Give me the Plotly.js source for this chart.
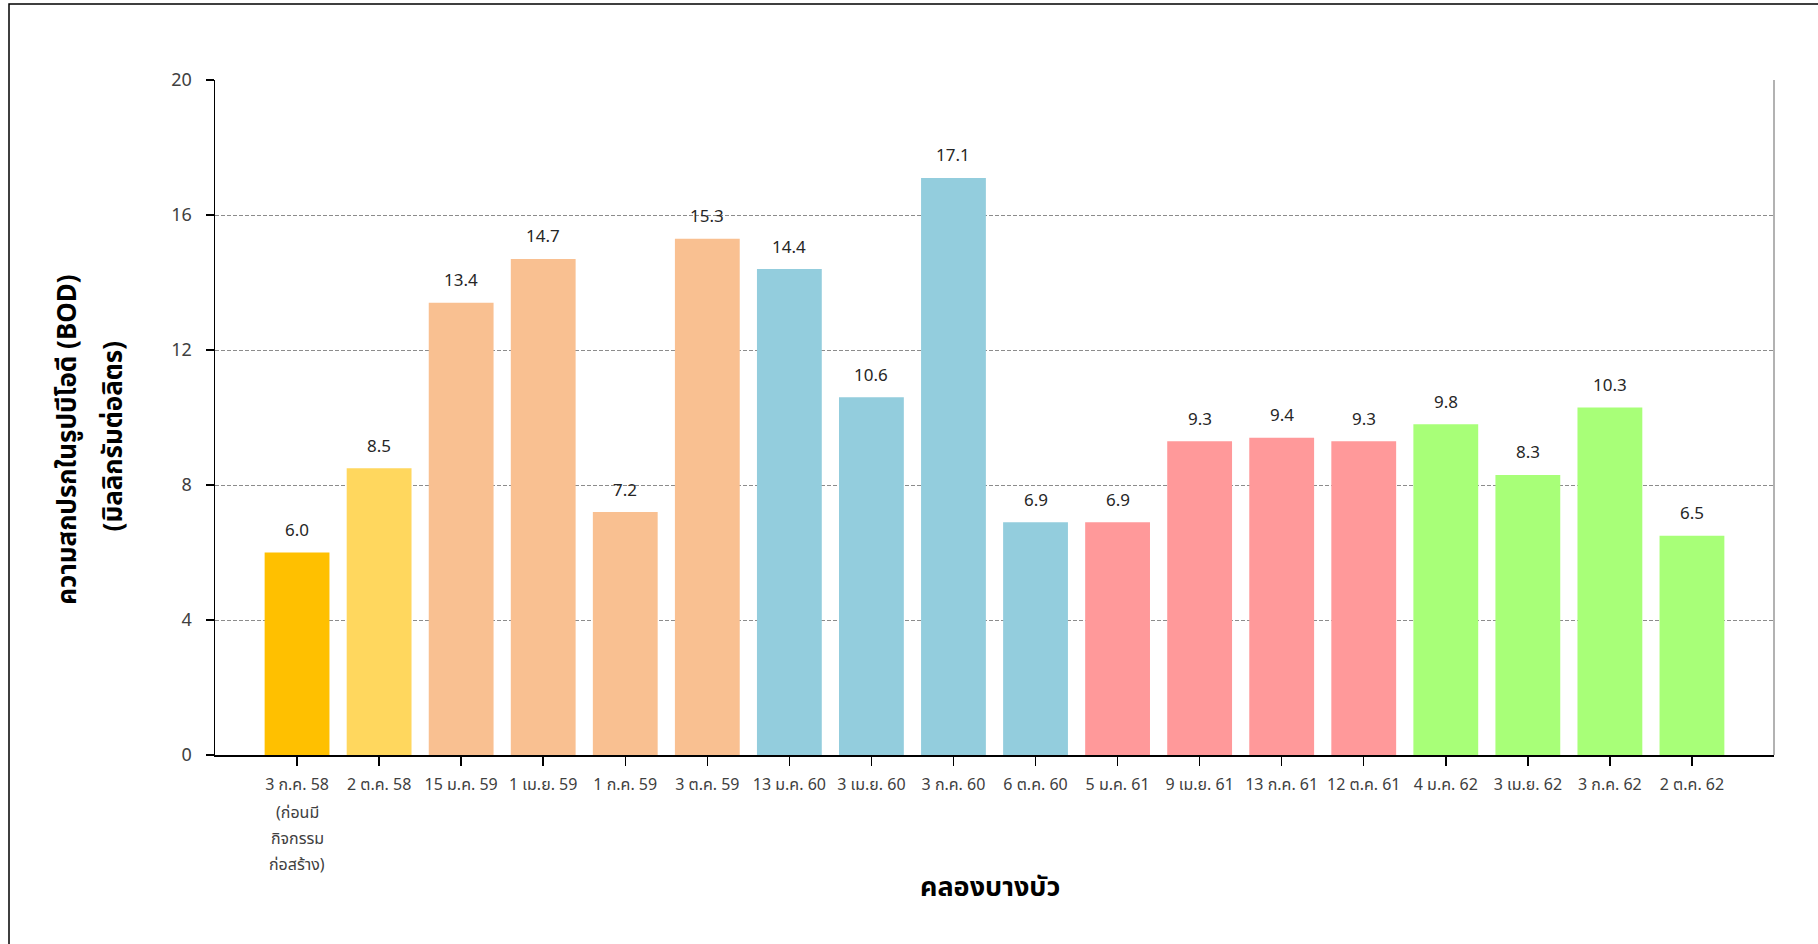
<!DOCTYPE html>
<html>
<head>
<meta charset="utf-8">
<script src="https://cdn.plot.ly/plotly-3.0.1.min.js"></script>
<style>
  html, body { margin: 0; padding: 0; background: #ffffff; }
  #chart { width: 1818px; height: 944px; }
</style>
</head>
<body>
<div id="chart"></div>
<script>
// Sampling dates along คลองบางบัว
const sampleDates = [
  '3 ก.ค. 58',
  '2 ต.ค. 58', '15 ม.ค. 59', '1 เม.ย. 59', '1 ก.ค. 59', '3 ต.ค. 59',
  '13 ม.ค. 60', '3 เม.ย. 60', '3 ก.ค. 60', '6 ต.ค. 60',
  '5 ม.ค. 61', '9 เม.ย. 61', '13 ก.ค. 61', '12 ต.ค. 61',
  '4 ม.ค. 62', '3 เม.ย. 62', '3 ก.ค. 62', '2 ต.ค. 62'
];

// Note printed under the first (baseline) round
const baselineNote = ['(ก่อนมี', 'กิจกรรม', 'ก่อสร้าง)'];

// BOD (mg/L) per sampling round
const bodValues = [6.0, 8.5, 13.4, 14.7, 7.2, 15.3, 14.4, 10.6, 17.1, 6.9,
                   6.9, 9.3, 9.4, 9.3, 9.8, 8.3, 10.3, 6.5];

// Monitoring period of each round (0 = before construction, then by year)
const periodOfRound = [0, 1, 2, 2, 2, 2, 3, 3, 3, 3, 4, 4, 4, 4, 5, 5, 5, 5];

const yTicks = [0, 4, 8, 12, 16, 20];

const yTitleLines = ['ความสกปรกในรูปบีโอดี (BOD)', '(มิลลิกรัมต่อลิตร)'];
const xTitle = 'คลองบางบัว';

// ---- styling ----
const periodColors = ['#FFC000', '#FFD75E', '#F9C091', '#93CDDD', '#FF999A', '#A8FF78'];
const FONT = 'Noto Sans, "Noto Sans Thai", Tahoma, sans-serif';

const bars = {
  type: 'bar',
  x: sampleDates,
  y: bodValues,
  marker: { color: periodOfRound.map(p => periodColors[p]), line: { width: 0 } },
  hoverinfo: 'x+y'
};

const valueLabels = sampleDates.map((d, i) => ({
  x: d, y: bodValues[i], xref: 'x', yref: 'y',
  text: bodValues[i].toFixed(1),
  showarrow: false, yanchor: 'middle', yshift: 23,
  font: { family: FONT, size: 17, color: '#262626' }
}));

// extra lines under the first tick label, spaced like the source table
const noteLabels = baselineNote.map((line, k) => ({
  x: sampleDates[0], y: 0, xref: 'x', yref: 'paper',
  text: line, showarrow: false, yanchor: 'middle', yshift: -57 - 26 * k,
  font: { family: FONT, size: 16, color: '#404040' }
}));

const titleAnnotations = [
  { text: '<b>' + yTitleLines[0] + '</b>', xref: 'paper', yref: 'paper', x: 0, y: 0.467,
    xshift: -149, xanchor: 'center', yanchor: 'middle', textangle: -90, showarrow: false,
    font: { family: FONT, size: 26, color: '#000000' } },
  { text: '<b>' + yTitleLines[1] + '</b>', xref: 'paper', yref: 'paper', x: 0, y: 0.472,
    xshift: -103, xanchor: 'center', yanchor: 'middle', textangle: -90, showarrow: false,
    font: { family: FONT, size: 26, color: '#000000' } },
  { text: '<b>' + xTitle + '</b>', xref: 'paper', yref: 'paper', x: 0.497, y: -0.194,
    xanchor: 'center', yanchor: 'middle', showarrow: false,
    font: { family: FONT, size: 27, color: '#000000' } }
];

const shapes = [
  // right edge of the plot area
  { type: 'line', xref: 'paper', yref: 'paper', x0: 1, x1: 1, y0: 0, y1: 1,
    line: { color: '#999999', width: 1.5 } },
  // end ticks of the category axis
  { type: 'line', xref: 'x', yref: 'y', x0: -1, x1: -1, ysizemode: 'pixel', yanchor: 0, y0: 0, y1: -9,
    line: { color: '#000000', width: 1.5 } },
  { type: 'line', xref: 'x', yref: 'y', x0: 18, x1: 18, ysizemode: 'pixel', yanchor: 0, y0: 0, y1: -9,
    line: { color: '#404040', width: 1.5 } },
  // outer frame
  { type: 'rect', xref: 'paper', yref: 'paper',
    x0: (9 - 215) / 1559, x1: 1.2, y0: -0.4, y1: (755 - 4) / 675,
    line: { color: '#000000', width: 1.5 }, fillcolor: 'rgba(0,0,0,0)', layer: 'above' }
];

const layout = {
  width: 1818, height: 944,
  margin: { l: 215, r: 44, t: 80, b: 189 },
  paper_bgcolor: '#ffffff', plot_bgcolor: '#ffffff',
  font: { family: FONT, color: '#404040' },
  showlegend: false,
  bargap: 0.21,
  xaxis: {
    type: 'category',
    range: [-1, 18],
    showline: true, linecolor: '#000000', linewidth: 1.5,
    ticks: 'outside', ticklen: 9, tickwidth: 1.5, tickcolor: '#000000',
    showgrid: false, zeroline: false,
    tickfont: { family: FONT, size: 16, color: '#404040' },
    ticklabelstandoff: 5,
    fixedrange: true
  },
  yaxis: {
    range: [0, 20],
    tickmode: 'array', tickvals: yTicks,
    showline: true, linecolor: '#000000', linewidth: 1.5,
    ticks: 'outside', ticklen: 8, tickwidth: 1.5, tickcolor: '#000000',
    showgrid: true, gridcolor: '#8c8c8c', gridwidth: 1, griddash: '4px,2px',
    zeroline: false,
    tickfont: { family: FONT, size: 18, color: '#404040' },
    ticklabelstandoff: 10,
    fixedrange: true
  },
  annotations: valueLabels.concat(noteLabels, titleAnnotations),
  shapes: shapes
};

Plotly.newPlot('chart', [bars], layout, { displayModeBar: false, staticPlot: true });
</script>
</body>
</html>
